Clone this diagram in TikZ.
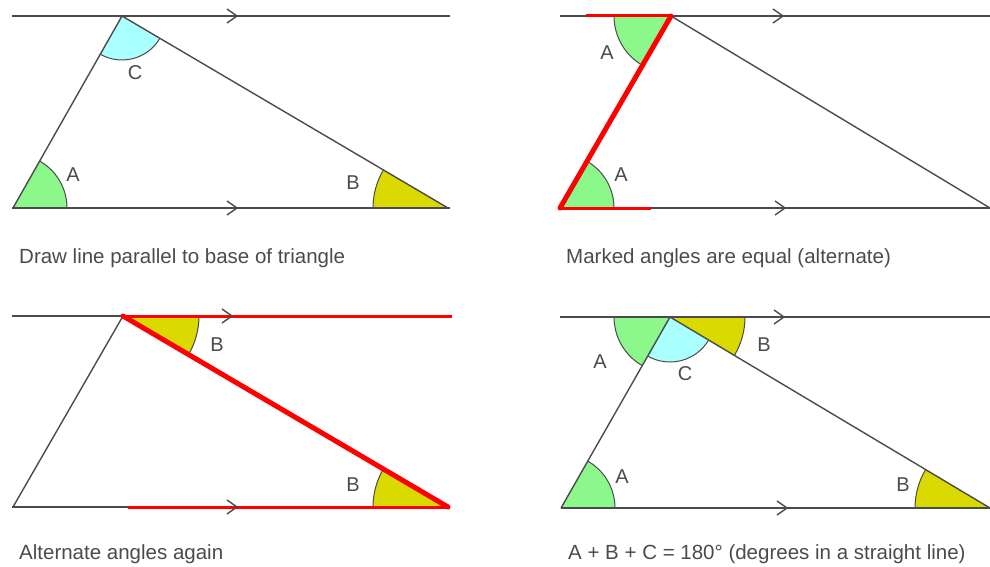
\documentclass[tikz,border=0pt]{standalone}
\usepackage{fontspec}
\setmainfont{Liberation Sans}
\usetikzlibrary{calc}
\definecolor{lg}{RGB}{75,75,75}
\definecolor{ag}{RGB}{140,248,140}
\definecolor{ac}{RGB}{170,255,255}
\definecolor{ay}{RGB}{218,218,0}
\definecolor{rd}{RGB}{255,0,0}
\tikzset{
  lineg/.style={draw=lg,line width=1.4pt},
  arcline/.style={draw=lg,line width=1pt},
  redthin/.style={draw=rd,line width=3pt},
  redthick/.style={draw=rd,line width=5pt,line cap=round},
  lbl/.style={font=\fontsize{20}{24}\selectfont,text=lg,inner sep=0pt},
  captxt/.style={font=\fontsize{20.5}{24}\selectfont,text=lg,inner sep=0pt,anchor=base west}
}
\newcommand\angsector[5]{%
  \fill[#5] (#1) -- ++(#2:#4pt) arc[start angle=#2,end angle=#3,radius=#4pt] -- cycle;
  \draw[arcline] (#1) ++(#2:#4pt) arc[start angle=#2,end angle=#3,radius=#4pt];}
\newcommand\chev[1]{\draw[lineg] ($(#1)+(-10,7)$) -- (#1) -- ($(#1)+(-10,-7)$);}
\begin{document}
\begin{tikzpicture}[x=1pt,y=1pt]
\useasboundingbox (0,0) rectangle (990,-567);
\begin{scope}
\clip (0,0) rectangle (990,-567);
% ---------- panel 1
\coordinate (a1) at (13,-208);
\coordinate (t1) at (122,-16);
\coordinate (b1) at (448,-208);
\coordinate (l1s) at (12,-16); \coordinate (l1e) at (450,-16);
\coordinate (m1s) at (12,-208); \coordinate (m1e) at (450,-208);
\coordinate (c1u) at (237,-16); \coordinate (c1d) at (237,-208);
\angsector{a1}{0}{60.4}{54}{ag}
\angsector{b1}{149.5}{180}{75}{ay}
\angsector{t1}{240.4}{329.5}{44}{ac}
\draw[lineg] (l1s) -- (l1e);
\draw[lineg] (m1s) -- (m1e);
\draw[lineg] (a1) -- (t1) -- (b1);
\chev{c1u} \chev{c1d}
\node[lbl] (la1) at (73,-175) {A};
\node[lbl] (lb1) at (353,-183) {B};
\node[lbl] (lc1) at (135,-73) {C};
\node[captxt] (cap1) at (19,-263) {Draw line parallel to base of triangle};
% ---------- panel 2
\coordinate (a2) at (560,-208);
\coordinate (t2) at (671,-16);
\coordinate (b2) at (990,-208);
\coordinate (l2s) at (560,-16); \coordinate (l2e) at (990,-16);
\coordinate (m2s) at (560,-208); \coordinate (m2e) at (990,-208);
\coordinate (r2u) at (586,-16); \coordinate (r2d) at (651,-208);
\coordinate (c2u) at (783,-16); \coordinate (c2d) at (785,-208);
\angsector{a2}{0}{60}{54}{ag}
\angsector{t2}{180}{240}{57}{ag}
\draw[lineg] (l2s) -- (l2e);
\draw[lineg] (m2s) -- (m2e);
\draw[lineg] (t2) -- (b2);
\draw[redthin] (r2u) -- (t2);
\draw[redthin] (a2) -- (r2d);
\draw[redthick] (a2) -- (t2);
\chev{c2u} \chev{c2d}
\node[lbl] (la2u) at (607,-53) {A};
\node[lbl] (la2d) at (621,-175) {A};
\node[captxt] (cap2) at (566,-263) {Marked angles are equal (alternate)};
% ---------- panel 3
\coordinate (a3) at (13,-507);
\coordinate (t3) at (123,-316);
\coordinate (b3) at (448,-507);
\coordinate (l3s) at (12,-316); \coordinate (l3e) at (452,-316);
\coordinate (m3s) at (12,-507); \coordinate (m3e) at (450,-507);
\coordinate (r3d) at (128,-507);
\coordinate (c3u) at (232,-316); \coordinate (c3d) at (237,-507);
\angsector{t3}{329.5}{360}{76}{ay}
\angsector{b3}{149.5}{180}{75}{ay}
\draw[lineg] (l3s) -- (l3e);
\draw[lineg] (m3s) -- (m3e);
\draw[lineg] (a3) -- (t3);
\draw[redthin] (t3) -- (l3e);
\draw[redthin] (r3d) -- (m3e);
\draw[redthick] (t3) -- (b3);
\chev{c3u} \chev{c3d}
\node[lbl] (lb3u) at (217,-345) {B};
\node[lbl] (lb3d) at (353,-485) {B};
\node[captxt] (cap3) at (19,-559) {Alternate angles again};
% ---------- panel 4
\coordinate (a4) at (561,-508);
\coordinate (t4) at (670,-317);
\coordinate (b4) at (990,-508);
\coordinate (l4s) at (560,-317); \coordinate (l4e) at (990,-317);
\coordinate (m4s) at (561,-508); \coordinate (m4e) at (990,-508);
\coordinate (c4u) at (784,-317); \coordinate (c4d) at (787,-508);
\angsector{a4}{0}{60.3}{54}{ag}
\angsector{b4}{149.2}{180}{75}{ay}
\angsector{t4}{180}{240.3}{56}{ag}
\angsector{t4}{240.3}{329.2}{45}{ac}
\angsector{t4}{329.2}{360}{75}{ay}
\draw[lineg] (l4s) -- (l4e);
\draw[lineg] (m4s) -- (m4e);
\draw[lineg] (a4) -- (t4) -- (b4);
\chev{c4u} \chev{c4d}
\node[lbl] (la4u) at (600,-362) {A};
\node[lbl] (lc4) at (685,-374) {C};
\node[lbl] (lb4u) at (764,-345) {B};
\node[lbl] (la4d) at (622,-477) {A};
\node[lbl] (lb4d) at (903,-485) {B};
\node[captxt] (cap4) at (568,-559) {A + B + C = 180° (degrees in a straight line)};
\end{scope}
\end{tikzpicture}
\end{document}
